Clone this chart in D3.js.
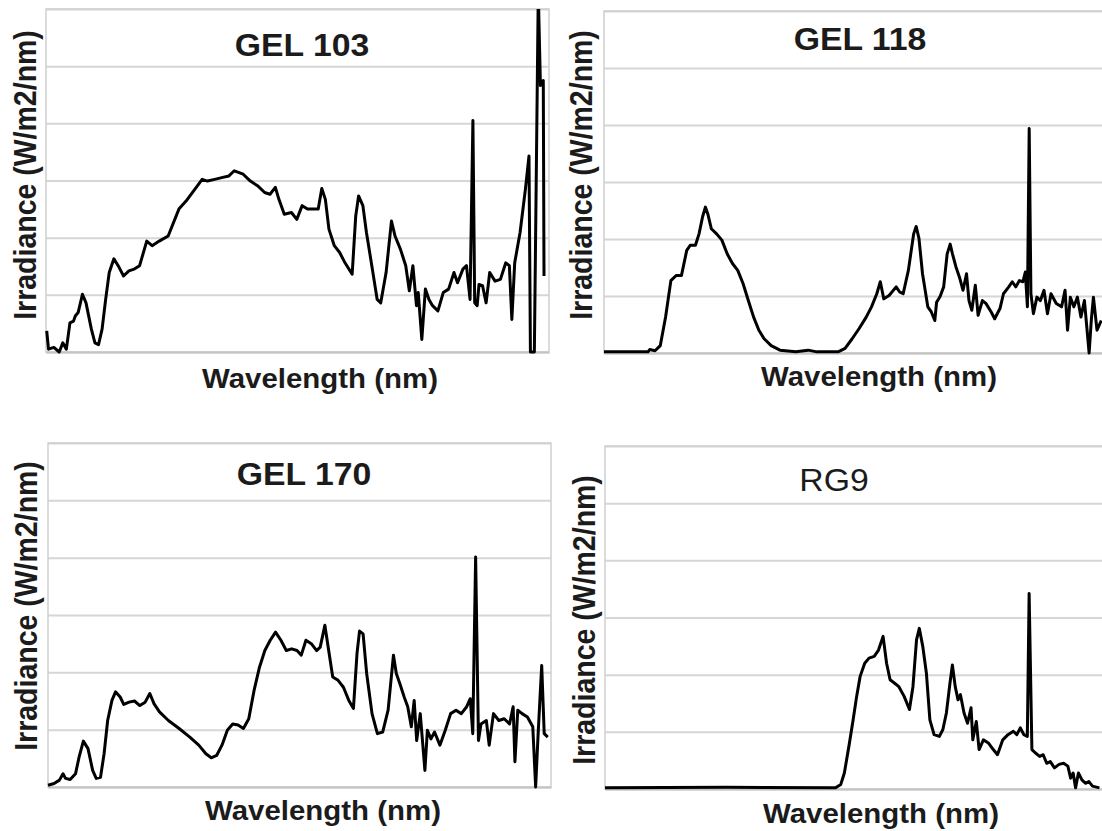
<!DOCTYPE html>
<html>
<head>
<meta charset="utf-8">
<script src="https://cdn.jsdelivr.net/npm/d3@7"></script>
<style>
  body { margin: 0; background: #fff; }
  svg { display: block; }
</style>
</head>
<body>
<svg id="chart" width="1102" height="831"></svg>
<script>
// Shared axes: wavelength (nm) and irradiance (arbitrary grid units)
const wavelengthDomain = [300, 1004];
const irradianceDomain = [0, 6];
const gridTicks = [0, 1, 2, 3, 4, 5, 6];

const panelTitles = ["GEL 103", "GEL 118", "GEL 170", "RG9"];
const xAxisTitle = "Wavelength (nm)";
const yAxisTitle = "Irradiance (W/m2/nm)";

// Spectra as [wavelength nm, irradiance]
const gel103 = [
  [301,0.37],[303.5,0.05],[311,0.08],[318.5,0.0],[323.5,0.16],[328.5,0.05],[333.5,0.51],[338.5,0.54],
  [341,0.63],[345,0.69],[351,1.01],[356,0.86],[363.5,0.40],[368.5,0.16],[373.5,0.13],[378.5,0.40],
  [383.5,0.92],[388.5,1.39],[395,1.63],[401,1.51],[408.5,1.33],[416,1.42],[423.5,1.45],[431,1.51],
  [441,1.94],[448.5,1.86],[458.5,1.94],[471,2.03],[486,2.50],[496,2.64],[508.5,2.85],[518.5,3.02],
  [526,2.99],[536,3.02],[546,3.05],[556,3.08],[563.5,3.17],[576,3.11],[586,2.99],[596,2.91],
  [606,2.79],[613.5,2.76],[621,2.88],[626,2.67],[633.5,2.41],[643.5,2.44],[651,2.32],[658.5,2.56],
  [666,2.50],[676,2.50],[681,2.50],[686,2.86],[691,2.67],[696,2.15],[703.5,1.86],[711,1.74],
  [718.5,1.56],[728.5,1.36],[733.5,2.38],[737.5,2.73],[743.5,2.56],[748.5,2.09],[756,1.51],[763.5,0.92],
  [768.5,0.86],[776,1.39],[783.5,2.29],[788.5,2.03],[796,1.80],[803.5,1.51],[808.5,1.07],[813.5,1.51],
  [818.5,0.81],[821,1.04],[826,0.22],[831,1.10],[836,0.92],[841,0.81],[848.5,0.72],[856,1.04],
  [863.5,1.10],[871,1.39],[876,1.21],[883.5,1.45],[888.5,1.51],[893.5,0.92],[897.5,4.05],[900,0.86],
  [903.5,0.81],[906,1.18],[911,1.16],[916,0.86],[921,1.39],[928.5,1.24],[936,1.27],[943.5,1.56],
  [948.5,1.51],[952,0.57],[956,1.56],[963.5,2.09],[971,2.85],[976,3.43],[978,0.0],[983.5,0.0],
  [989,6.3],[992,4.66],[996,4.75],[997,1.33]
];

const gel118 = [
  [300,0.02],[361.6,0.02],[364,0.06],[371.4,0.04],[378.8,0.13],[386.2,0.63],[393.6,1.27],[401,1.36],
  [408.4,1.36],[415.8,1.80],[420.7,1.89],[428,1.89],[433,2.09],[438,2.39],[441.9,2.56],[445.3,2.44],
  [450.2,2.18],[457.6,2.09],[465,1.98],[472.4,1.74],[479.8,1.57],[487.2,1.45],[494.6,1.22],[502,0.92],
  [509.4,0.63],[516.8,0.40],[524.1,0.25],[534,0.13],[546.3,0.05],[568.5,0.02],[585.7,0.05],[598,0.02],
  [627.6,0.02],[637.4,0.08],[647.3,0.25],[657.1,0.43],[667,0.63],[674.4,0.81],[681.8,1.04],[686.7,1.25],
  [691.6,0.95],[699,1.01],[708.9,1.16],[713.8,1.07],[718.7,1.04],[726,1.45],[733.4,2.09],[736.9,2.22],
  [740.8,2.01],[745.8,1.39],[753.2,0.81],[758.1,0.72],[763,0.57],[765.5,0.89],[770.4,0.99],[775.4,1.16],
  [780.3,1.74],[784.5,1.91],[787.7,1.74],[792.6,1.51],[797.5,1.33],[802.5,1.10],[807.4,1.39],[810.8,0.92],
  [814.8,0.75],[819.7,1.19],[823.6,0.66],[829.6,0.92],[834.5,0.87],[841.9,0.72],[846.8,0.60],[854.2,0.78],
  [859.1,1.04],[866.5,1.16],[871.4,1.25],[876.4,1.16],[881.3,1.27],[886.2,1.25],[889.7,1.42],[892.6,0.81],
  [895.1,3.94],[897.5,1.04],[901,0.69],[905.9,0.98],[910.8,0.92],[915.8,1.10],[920.7,0.69],[925.6,1.04],
  [933,0.87],[940.4,0.81],[945.3,1.10],[948.8,0.40],[952.7,0.98],[957.6,0.81],[962.6,0.98],[967.5,0.63],
  [972.4,0.92],[979,0.0],[982,0.57],[985,0.98],[990,0.40],[996,0.57]
];

const gel170 = [
  [300,0.03],[308.5,0.06],[316,0.12],[321,0.23],[324.5,0.15],[331,0.13],[338.5,0.23],[343.5,0.52],
  [349.5,0.80],[356,0.67],[362.5,0.29],[367.5,0.15],[373.5,0.17],[378.5,0.58],[383.5,1.16],[389.5,1.51],
  [394.5,1.66],[401,1.57],[406,1.44],[413.5,1.48],[421,1.50],[428.5,1.42],[436,1.48],[442.5,1.63],
  [448.5,1.45],[456,1.31],[468.5,1.16],[483.5,1.02],[498.5,0.87],[511,0.73],[521,0.58],[528.5,0.51],
  [536,0.55],[543.5,0.73],[551,0.99],[558.5,1.10],[566,1.08],[573.5,1.02],[581,1.19],[588.5,1.69],
  [596,2.09],[603.5,2.38],[611,2.56],[618.5,2.70],[626,2.56],[633.5,2.38],[641,2.41],[648.5,2.38],
  [654.5,2.30],[661,2.56],[668.5,2.50],[676,2.38],[681,2.44],[687.5,2.82],[693.5,2.33],[698.5,1.92],
  [706,1.86],[713.5,1.74],[721,1.51],[727.5,1.37],[732.5,2.33],[736,2.72],[741,2.67],[746,1.98],
  [753.5,1.28],[761,0.93],[768.5,0.96],[776,1.34],[783.5,2.30],[787.5,1.98],[792.5,1.80],[798.5,1.57],
  [803.5,1.40],[808.5,1.05],[812.5,1.51],[816,0.81],[821,1.28],[827.5,0.29],[831,0.99],[836,0.84],
  [841,0.96],[848.5,0.73],[856,0.99],[863.5,1.28],[871,1.34],[878.5,1.28],[886,1.40],[891,1.54],
  [894.5,0.93],[898.5,4.01],[902.5,0.81],[906,1.10],[913.5,1.16],[917.5,0.73],[923.5,1.28],[931,1.16],
  [938.5,1.19],[946,1.10],[951,1.40],[953.5,0.44],[957.5,1.34],[963.5,1.28],[971,1.22],[978.5,1.05],
  [982.5,0.0],[986,0.93],[991,2.12],[994.5,0.93],[999.5,0.87]
];

const rg9 = [
  [300,0.02],[470,0.03],[622.7,0.02],[630,0.08],[635,0.28],[641.4,0.75],[647.3,1.21],[652.2,1.62],
  [657.1,1.97],[663.5,2.20],[669.5,2.29],[676.8,2.32],[682.8,2.43],[689.2,2.67],[694.1,2.20],[699,1.91],
  [705.4,1.85],[711.3,1.79],[718.7,1.62],[726.1,1.39],[731,1.79],[736,2.61],[739.9,2.81],[744.8,2.49],
  [749.8,2.03],[754.7,1.21],[760.6,0.95],[768,0.92],[772.9,1.04],[777.8,1.33],[782.8,1.85],[786.2,2.17],
  [790.2,1.79],[794.1,1.56],[797.5,1.65],[802.5,1.33],[807.4,1.15],[812.3,1.42],[814.8,0.86],[819.7,1.18],
  [823.6,0.69],[829.6,0.86],[837,0.80],[843.4,0.69],[849.3,0.60],[856.7,0.86],[864,0.95],[871.5,1.01],
  [876.4,0.95],[881.3,1.07],[886.2,0.95],[891.1,0.92],[893.6,3.42],[897.5,0.69],[902.5,0.63],[908.4,0.57],
  [913.3,0.60],[918.2,0.45],[923.2,0.48],[929.1,0.37],[935.5,0.43],[941.9,0.45],[947.8,0.40],[951.7,0.19],
  [955.2,0.28],[958.6,0.02],[962.6,0.28],[967.5,0.16],[972.4,0.10],[977.3,0.13],[982.3,0.05],[992,0.02]
];

const series = [gel103, gel118, gel170, rg9];

// Panel placement (plot-area box and label anchors)
const layout = [
  { left: 46,  top: 9,   width: 503, height: 343, titleX: 302, titleY: 56,  titleWeight: "bold",   yLabelX: 25,  yLabelY: 175, xLabelX: 320, xLabelY: 388 },
  { left: 604, top: 11,  width: 503, height: 342, titleX: 860, titleY: 50,  titleWeight: "bold",   yLabelX: 581, yLabelY: 175, xLabelX: 879, xLabelY: 386 },
  { left: 48,  top: 443, width: 503, height: 344, titleX: 304, titleY: 485, titleWeight: "bold",   yLabelX: 26,  yLabelY: 606, xLabelX: 323, xLabelY: 820 },
  { left: 605, top: 446, width: 503, height: 343, titleX: 834, titleY: 491, titleWeight: "normal", yLabelX: 584, yLabelY: 620, xLabelX: 881, xLabelY: 823 }
];

const svg = d3.select("#chart");
const FONT = "Arial, 'Liberation Sans', Helvetica, sans-serif";
const TEXT_COLOR = "#1b1b1b";
const STRETCH = 1.09;

layout.forEach((box, i) => {
  const x = d3.scaleLinear().domain(wavelengthDomain).range([0, box.width]);
  const y = d3.scaleLinear().domain(irradianceDomain).range([box.height, 0]);

  const g = svg.append("g").attr("transform", `translate(${box.left},${box.top})`);

  // horizontal gridlines
  g.append("g")
    .call(d3.axisLeft(y).tickValues(gridTicks).tickSize(-box.width).tickFormat(""))
    .call(s => s.select(".domain").remove())
    .call(s => s.selectAll("line").attr("stroke", "#d6d6d6").attr("stroke-width", 2));

  // plot frame
  g.append("rect")
    .attr("x", 0).attr("y", 0)
    .attr("width", box.width).attr("height", box.height)
    .attr("fill", "none").attr("stroke", "#cfcfcf").attr("stroke-width", 1.5);

  // bottom axis line
  g.append("g")
    .attr("transform", `translate(0,${box.height})`)
    .call(d3.axisBottom(x).tickValues([]).tickSizeOuter(0))
    .call(s => s.select(".domain").attr("stroke", "#c4c4c4").attr("stroke-width", 2));

  const clipId = `clip-${i}`;
  g.append("clipPath").attr("id", clipId)
    .append("rect").attr("x", -2).attr("y", 0).attr("width", box.width + 4).attr("height", box.height + 2);

  const line = d3.line().x(d => x(d[0])).y(d => y(d[1]));
  g.append("path")
    .datum(series[i])
    .attr("clip-path", `url(#${clipId})`)
    .attr("d", line)
    .attr("fill", "none")
    .attr("stroke", "#000")
    .attr("stroke-width", 3)
    .attr("stroke-linejoin", "round");

  // panel title
  svg.append("text")
    .attr("transform", `translate(${box.titleX},${box.titleY}) scale(${STRETCH},1)`)
    .attr("text-anchor", "middle")
    .attr("font-family", FONT)
    .attr("font-weight", box.titleWeight)
    .attr("font-size", 31)
    .attr("fill", TEXT_COLOR)
    .text(panelTitles[i]);

  // x-axis title
  svg.append("text")
    .attr("transform", `translate(${box.xLabelX},${box.xLabelY}) scale(${STRETCH},1)`)
    .attr("text-anchor", "middle")
    .attr("font-family", FONT)
    .attr("font-weight", "bold")
    .attr("font-size", 27)
    .attr("fill", TEXT_COLOR)
    .text(xAxisTitle);

  // y-axis title
  svg.append("text")
    .attr("transform", `translate(${box.yLabelX},${box.yLabelY}) scale(${STRETCH},1) rotate(-90)`)
    .attr("text-anchor", "middle")
    .attr("dy", "0.35em")
    .attr("font-family", FONT)
    .attr("font-weight", "bold")
    .attr("font-size", 28.5)
    .attr("fill", TEXT_COLOR)
    .text(yAxisTitle);
});
</script>
</body>
</html>
